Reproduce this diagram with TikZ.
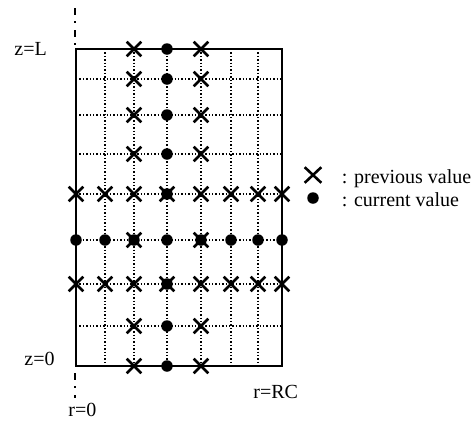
\documentclass[tikz,border=0pt]{standalone}
\usepackage{fontspec}
\setmainfont{Liberation Serif}
\usetikzlibrary{shapes.misc,positioning}

\begin{document}
\begin{tikzpicture}[
  x=1pt,y=-1pt,
  line width=0.75pt,
  prev/.style={cross out,draw,line width=2.6pt,minimum size=12pt,inner sep=0pt},
  curr/.style={circle,fill,minimum size=11.5pt,inner sep=0pt},
  gridline/.style={dotted,line width=1.4pt},
  border/.style={line width=2.2pt},
  axis/.style={line width=1.5pt,dash pattern=on 7pt off 6pt on 2pt off 7pt},
  lbl/.style={font=\fontsize{20}{24}\selectfont,inner sep=0pt,anchor=base west}
]%
  \useasboundingbox (0,0) rectangle (475,421);

  \foreach \x in {105,134,167,201,231,258}
    \draw[gridline] (\x,49) -- (\x,366);
  \foreach \y in {79,115,154,194,240,284,326}
    \draw[gridline] (76,\y) -- (282,\y);

  \draw[border] (76,49) rectangle (282,366);
  \draw[axis] (75,8) -- (75,49);
  \draw[axis,dash phase=15pt] (75,366) -- (75,398);

  \foreach \y in {49,79,115,154,194,240,284,326,366}
    \node[curr] (c-167-\y) at (167,\y) {};
  \foreach \x in {76,105,134,201,231,258,282}
    \node[curr] (c-\x-240) at (\x,240) {};

  \foreach \y in {49,79,115,154,194,240,284,326,366}{
    \node[prev] (p-134-\y) at (134,\y) {};
    \node[prev] (p-201-\y) at (201,\y) {};
  }
  \foreach \x in {76,105,167,231,258,282}{
    \node[prev] (p-\x-194) at (\x,194) {};
    \node[prev] (p-\x-284) at (\x,284) {};
  }

  \node[lbl] (zL) at (14,55) {z=L};
  \node[lbl] (z0) at (24,365) {z=0};
  \node[lbl] (r0) at (68,416) {r=0};
  \node[lbl] (rRC) at (253,398) {r=RC};

  \node[prev,minimum width=14pt,minimum height=13pt] (keyprev) at (313,175) {};
  \node[curr] (keycurr) at (313,198) {};
  \node[lbl] (txtprev) at (341.5,183) {: previous value};
  \node[lbl] (txtcurr) at (341.5,206) {: current value};
\end{tikzpicture}
\end{document}
